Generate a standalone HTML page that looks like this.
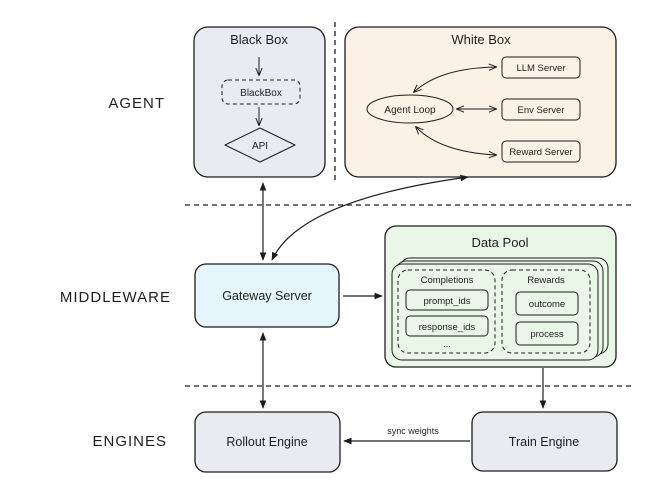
<!DOCTYPE html>
<html><head><meta charset="utf-8"><style>
html,body{margin:0;padding:0;background:#fff;width:672px;height:489px;overflow:hidden}
svg{display:block}
text{font-family:"Liberation Sans",sans-serif;fill:#1e1e1e}
</style></head><body>
<svg width="672" height="489" viewBox="0 0 672 489" xmlns="http://www.w3.org/2000/svg">
<defs>
<marker id="a" viewBox="0 0 10 10" refX="9" refY="5" markerWidth="7" markerHeight="7" orient="auto-start-reverse"><path d="M0,1 L10,5 L0,9 z" fill="#1e1e1e"/></marker>
<marker id="o" viewBox="0 0 10 10" refX="9" refY="5" markerWidth="8" markerHeight="8" orient="auto-start-reverse"><path d="M0,1 L10,5 L0,9" fill="none" stroke="#1e1e1e" stroke-width="1.2"/></marker>
</defs>
<g font-size="15" text-anchor="end" letter-spacing="1">
<text x="165" y="108">AGENT</text>
<text x="171" y="302">MIDDLEWARE</text>
<text x="167" y="446">ENGINES</text>
</g>
<g stroke="#1e1e1e" stroke-width="1.3" stroke-dasharray="5,4" fill="none">
<line x1="185" y1="205" x2="632" y2="205"/>
<line x1="185" y1="386" x2="632" y2="386"/>
<line x1="335" y1="22" x2="335" y2="180"/>
</g>
<!-- Black Box -->
<rect x="194" y="27" width="131" height="150" rx="14" fill="#e9ebf0" stroke="#1e1e1e" stroke-width="1.3"/>
<text x="259" y="44" font-size="13" text-anchor="middle">Black Box</text>
<line x1="259" y1="57" x2="259" y2="75" stroke="#1e1e1e" marker-end="url(#o)"/>
<rect x="222" y="80" width="78" height="24" rx="6" fill="none" stroke="#1e1e1e" stroke-dasharray="4,3"/>
<text x="261" y="96" font-size="10" text-anchor="middle">BlackBox</text>
<line x1="259" y1="107" x2="259" y2="125" stroke="#1e1e1e" marker-end="url(#o)"/>
<path d="M260,128 L295,145 L260,162 L225,145 Z" fill="none" stroke="#1e1e1e" stroke-linejoin="round"/>
<text x="260" y="149" font-size="10" text-anchor="middle">API</text>
<!-- White Box -->
<rect x="345" y="27" width="271" height="150" rx="14" fill="#fbf1e4" stroke="#1e1e1e" stroke-width="1.3"/>
<text x="481" y="44" font-size="13" text-anchor="middle">White Box</text>
<ellipse cx="410" cy="109" rx="43" ry="14" fill="none" stroke="#1e1e1e"/>
<text x="410" y="113" font-size="10" text-anchor="middle">Agent Loop</text>
<rect x="502" y="57" width="78" height="21" rx="4" fill="none" stroke="#1e1e1e"/>
<text x="541" y="71" font-size="9.5" text-anchor="middle">LLM Server</text>
<rect x="502" y="99" width="78" height="21" rx="4" fill="none" stroke="#1e1e1e"/>
<text x="541" y="113" font-size="9.5" text-anchor="middle">Env Server</text>
<rect x="502" y="141" width="78" height="21" rx="4" fill="none" stroke="#1e1e1e"/>
<text x="541" y="155" font-size="9.5" text-anchor="middle">Reward Server</text>
<g stroke="#1e1e1e" fill="none">
<path d="M414,92 Q440,68 496,67" marker-start="url(#o)" marker-end="url(#o)"/>
<path d="M457,109 L496,109" marker-start="url(#o)" marker-end="url(#o)"/>
<path d="M416,127 Q440,152 496,155" marker-start="url(#o)" marker-end="url(#o)"/>
</g>
<!-- connectors -->
<g stroke="#1e1e1e" stroke-width="1.2" fill="none">
<line x1="263" y1="183" x2="263" y2="260" marker-start="url(#a)" marker-end="url(#a)"/>
<path d="M272,260 Q300,200 468,177" marker-start="url(#a)" marker-end="url(#a)"/>
<line x1="343" y1="296" x2="382" y2="296" marker-end="url(#a)"/>
<line x1="263" y1="333" x2="263" y2="408" marker-start="url(#a)" marker-end="url(#a)"/>
<line x1="543" y1="368" x2="543" y2="408" marker-end="url(#a)"/>
<line x1="470" y1="441" x2="344" y2="441" marker-end="url(#a)"/>
</g>
<text x="413" y="434" font-size="9" text-anchor="middle">sync weights</text>
<!-- Gateway -->
<rect x="195" y="264" width="144" height="63" rx="11" fill="#e4f6fb" stroke="#1e1e1e" stroke-width="1.3"/>
<text x="267" y="300" font-size="12.5" text-anchor="middle">Gateway Server</text>
<!-- Data pool -->
<rect x="385" y="226" width="231" height="141" rx="11" fill="#e8f7e6" stroke="#1e1e1e" stroke-width="1.3"/>
<text x="500" y="247" font-size="13" text-anchor="middle">Data Pool</text>
<rect x="400" y="258" width="208" height="96" rx="10" fill="#e8f7e6" stroke="#1e1e1e"/>
<rect x="396" y="261" width="207" height="96" rx="10" fill="#e8f7e6" stroke="#1e1e1e"/>
<rect x="392" y="264" width="206" height="96" rx="10" fill="#e8f7e6" stroke="#1e1e1e"/>
<rect x="398" y="270" width="97" height="83" rx="10" fill="none" stroke="#1e1e1e" stroke-dasharray="4,3"/>
<rect x="502" y="270" width="88" height="83" rx="10" fill="none" stroke="#1e1e1e" stroke-dasharray="4,3"/>
<text x="447" y="283" font-size="9.5" text-anchor="middle">Completions</text>
<text x="546" y="283" font-size="9.5" text-anchor="middle">Rewards</text>
<rect x="406" y="290" width="82" height="20" rx="4" fill="none" stroke="#1e1e1e"/>
<text x="447" y="304" font-size="9.5" text-anchor="middle">prompt_ids</text>
<rect x="406" y="316" width="82" height="20" rx="4" fill="none" stroke="#1e1e1e"/>
<text x="447" y="330" font-size="9.5" text-anchor="middle">response_ids</text>
<text x="447" y="347" font-size="9" text-anchor="middle">...</text>
<rect x="516" y="292" width="62" height="23" rx="4" fill="none" stroke="#1e1e1e"/>
<text x="547" y="307" font-size="9.5" text-anchor="middle">outcome</text>
<rect x="516" y="322" width="62" height="23" rx="4" fill="none" stroke="#1e1e1e"/>
<text x="547" y="337" font-size="9.5" text-anchor="middle">process</text>
<!-- engines -->
<rect x="195" y="412" width="145" height="60" rx="11" fill="#e9ebf0" stroke="#1e1e1e" stroke-width="1.3"/>
<text x="267" y="446" font-size="12.5" text-anchor="middle">Rollout Engine</text>
<rect x="472" y="412" width="145" height="59" rx="11" fill="#e9ebf0" stroke="#1e1e1e" stroke-width="1.3"/>
<text x="544" y="446" font-size="12.5" text-anchor="middle">Train Engine</text>
</svg>
</body></html>
